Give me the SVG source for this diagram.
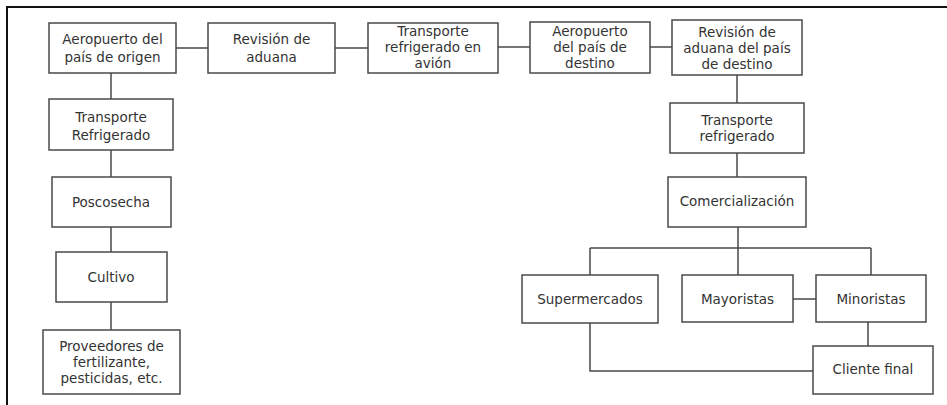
<svg xmlns="http://www.w3.org/2000/svg" width="947" height="405" viewBox="0 0 947 405">
<style>
.box{fill:#fff;stroke:#4a4a4a;stroke-width:1.5}
.t{font-family:"DejaVu Sans","Open Sans",sans-serif;font-size:13.5px;fill:#333;text-anchor:middle}
.c{fill:none;stroke:#4a4a4a;stroke-width:1.5}
.f{fill:none;stroke:#111;stroke-width:2}
</style>
<rect width="947" height="405" fill="#fff"/>
<path class="f" d="M7 405V7H947"/>
<g id="connectors">
<path class="c" d="M176 48H208M335 48H368M498 47H530M650 47H672"/>
<path class="c" d="M111 73V99M111 150V177M111 227V252M111 302V330"/>
<path class="c" d="M737 75V103M737 153V177M738 227V248M590 248H871M590 248V275M738 248V275M871 248V275"/>
<path class="c" d="M793 299H816M868 322V346M590 323V371H813"/>
</g>
<g id="n1"><rect class="box" x="49" y="23" width="127" height="50"/><text class="t"><tspan x="112.5" y="44">Aeropuerto del</tspan><tspan x="112.5" y="62">país de origen</tspan></text></g>
<g id="n2"><rect class="box" x="208" y="23" width="127" height="50"/><text class="t"><tspan x="271.5" y="44">Revisión de</tspan><tspan x="271.5" y="62">aduana</tspan></text></g>
<g id="n3"><rect class="box" x="368" y="23" width="130" height="50"/><text class="t"><tspan x="433" y="36">Transporte</tspan><tspan x="433" y="52">refrigerado en</tspan><tspan x="433" y="68">avión</tspan></text></g>
<g id="n4"><rect class="box" x="530" y="22" width="120" height="51"/><text class="t"><tspan x="590" y="36">Aeropuerto</tspan><tspan x="590" y="52">del país de</tspan><tspan x="590" y="68">destino</tspan></text></g>
<g id="n5"><rect class="box" x="672" y="20" width="130" height="55"/><text class="t"><tspan x="737" y="37">Revisión de</tspan><tspan x="737" y="53">aduana del país</tspan><tspan x="737" y="69">de destino</tspan></text></g>
<g id="n6"><rect class="box" x="49" y="99" width="124" height="51"/><text class="t"><tspan x="111" y="122">Transporte</tspan><tspan x="111" y="140">Refrigerado</tspan></text></g>
<g id="n7"><rect class="box" x="52" y="177" width="119" height="50"/><text class="t" x="111" y="207">Poscosecha</text></g>
<g id="n8"><rect class="box" x="56" y="252" width="111" height="50"/><text class="t" x="111" y="282">Cultivo</text></g>
<g id="n9"><rect class="box" x="43" y="330" width="137" height="64"/><text class="t"><tspan x="111.5" y="351">Proveedores de</tspan><tspan x="111.5" y="367">fertilizante,</tspan><tspan x="111.5" y="383">pesticidas, etc.</tspan></text></g>
<g id="n10"><rect class="box" x="670" y="103" width="134" height="50"/><text class="t"><tspan x="737" y="125">Transporte</tspan><tspan x="737" y="141">refrigerado</tspan></text></g>
<g id="n11"><rect class="box" x="668" y="177" width="138" height="50"/><text class="t" x="737" y="206">Comercialización</text></g>
<g id="n12"><rect class="box" x="522" y="275" width="136" height="48"/><text class="t" x="590" y="304">Supermercados</text></g>
<g id="n13"><rect class="box" x="682" y="275" width="111" height="47"/><text class="t" x="737.5" y="304">Mayoristas</text></g>
<g id="n14"><rect class="box" x="816" y="275" width="110" height="47"/><text class="t" x="871" y="304">Minoristas</text></g>
<g id="n15"><rect class="box" x="813" y="346" width="120" height="48"/><text class="t" x="873" y="374">Cliente final</text></g>
</svg>
